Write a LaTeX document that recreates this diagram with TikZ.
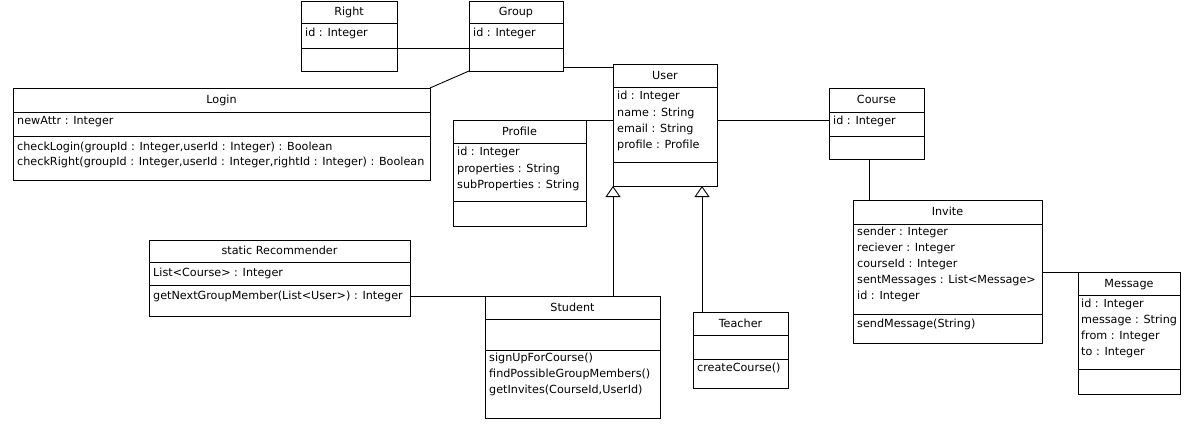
\documentclass[tikz,border=0pt]{standalone}
\usepackage{fontspec}
\setmainfont{DejaVu Sans}
\usetikzlibrary{arrows.meta,shadows}
\newcommand\umlclass[8]{%
  \node[cls, minimum width={(#4)-(#2)}, minimum height={(#5)-(#3)}] (#1) at (#2,#3) {};
  \draw[sepline] (#2,#6) -- (#4,#6);
  \draw[sepline] (#2,#7) -- (#4,#7);
  \node[ttl] (#1-title) at ({(#2+#4)/2},{(#3+#6)/2}) {#8};
}
\begin{document}
\begin{tikzpicture}[x=1pt,y=-1pt,
  cls/.style={draw, line width=0.9pt, fill=white, inner sep=0pt, outer sep=0pt, anchor=north west,
    drop shadow={shadow xshift=1.3pt, shadow yshift=-1.3pt, fill=black!25}},
  txt/.style={inner sep=0pt, anchor=mid west, yshift=-0.8pt, font=\fontsize{11.2}{13}\selectfont},
  ttl/.style={inner sep=0pt, anchor=mid, yshift=-0.8pt, font=\fontsize{11.2}{13}\selectfont},
  sepline/.style={line width=0.9pt},
  assoc/.style={line width=0.9pt},
  gen/.style={line width=0.9pt, -{Triangle[open, width=15pt, length=11pt]}}]
\useasboundingbox (0,0) rectangle (1191,425);
\fill[white] (0,0) rectangle (1191,425);
% helper levels
\coordinate (L48) at (0,48);
\coordinate (L67) at (0,67);
\coordinate (L120) at (0,120);
\coordinate (X869) at (869,0);
\coordinate (X702) at (702,0);
% classes
\umlclass{Right}{301}{1}{397}{71}{23}{48}{Right}
\node[txt] (right-a1) at (305,33) {id : Integer};
\umlclass{Group}{469}{1}{563}{71}{23}{48}{Group}
\node[txt] (group-a1) at (473,33) {id : Integer};
\umlclass{Login}{13}{88}{430}{180}{112}{136}{Login}
\node[txt] (login-a1) at (17,121) {newAttr : Integer};
\node[txt] (login-o1) at (17,147) {checkLogin(groupId : Integer,userId : Integer) : Boolean};
\node[txt] (login-o2) at (17,162) {checkRight(groupId : Integer,userId : Integer,rightId : Integer) : Boolean};
\umlclass{User}{613}{64}{717}{186}{87}{162}{User}
\node[txt] (user-a1) at (617,96) {id : Integer};
\node[txt] (user-a2) at (617,113) {name : String};
\node[txt] (user-a3) at (617,129) {email : String};
\node[txt] (user-a4) at (617,145) {profile : Profile};
\umlclass{Profile}{453}{120}{586}{226}{143}{201}{Profile}
\node[txt] (profile-a1) at (457,152) {id : Integer};
\node[txt] (profile-a2) at (457,169) {properties : String};
\node[txt] (profile-a3) at (457,185) {subProperties : String};
\umlclass{Course}{829}{88}{924}{159}{112}{136}{Course}
\node[txt] (course-a1) at (833,121) {id : Integer};
\umlclass{Invite}{853}{200}{1042}{343}{224}{314}{Invite}
\node[txt] (invite-a1) at (857,232) {sender : Integer};
\node[txt] (invite-a2) at (857,248) {reciever : Integer};
\node[txt] (invite-a3) at (857,264) {courseId : Integer};
\node[txt] (invite-a4) at (857,280) {sentMessages : List<Message>};
\node[txt] (invite-a5) at (857,296) {id : Integer};
\node[txt] (invite-o1) at (857,324) {sendMessage(String)};
\umlclass{Message}{1078}{272}{1180}{394}{295}{369}{Message}
\node[txt] (message-a1) at (1081,304) {id : Integer};
\node[txt] (message-a2) at (1081,320) {message : String};
\node[txt] (message-a3) at (1081,336) {from : Integer};
\node[txt] (message-a4) at (1081,352) {to : Integer};
\umlclass{Recommender}{149}{240}{410}{316}{262}{285}{static Recommender}
\node[txt] (rec-a1) at (153,273) {List<Course> : Integer};
\node[txt] (rec-o1) at (153,296) {getNextGroupMember(List<User>) : Integer};
\umlclass{Student}{485}{296}{660}{418}{319}{350}{Student}
\node[txt] (student-o1) at (489,358) {signUpForCourse()};
\node[txt] (student-o2) at (489,374) {findPossibleGroupMembers()};
\node[txt] (student-o3) at (489,390) {getInvites(CourseId,UserId)};
\umlclass{Teacher}{693}{312}{788}{388}{335}{359}{Teacher}
\node[txt] (teacher-o1) at (697,368) {createCourse()};
% connectors
\draw[assoc] (Right.east |- L48) -- (Group.west |- L48);
\draw[assoc] (Group.south west) -- (Login.north east);
\draw[assoc] (Group.east |- L67) -- (User.west |- L67);
\draw[assoc] (Profile.north east) -- (User.west |- Profile.north);
\draw[assoc] (User.east |- L120) -- (Course.west |- L120);
\draw[assoc] (Course.south -| X869) -- (Invite.north -| X869);
\draw[assoc] (Invite.east |- Message.north) -- (Message.north west);
\draw[assoc] (Recommender.east |- Student.north) -- (Student.north west);
\draw[gen] (Student.north -| User.west) -- (User.south west);
\draw[gen] (Teacher.north -| X702) -- (User.south -| X702);
\end{tikzpicture}
\end{document}
